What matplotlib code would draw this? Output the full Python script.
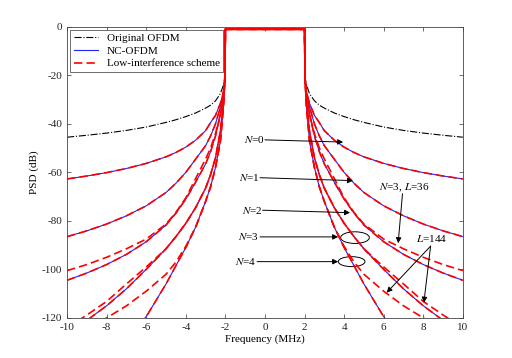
import matplotlib
matplotlib.use("Agg")
import matplotlib.pyplot as plt
import numpy as np
from matplotlib.patches import Ellipse

plt.rcParams['font.family'] = ['Liberation Serif', 'DejaVu Serif']
plt.rcParams['mathtext.fontset'] = 'stix'
plt.rcParams['font.size'] = 8
plt.rcParams['axes.unicode_minus'] = False

# frequency points on the right side (MHz); the curves are symmetric about 0
f_right = np.array([2.0, 2.03, 2.1, 2.25, 2.5, 2.75, 3, 3.5, 4, 4.5, 5, 6, 7, 8, 9, 10])

# PSD values (dB) at f_right
psd_ofdm = [-1, -21, -24, -27.5, -30.5, -32.3, -33.5, -35.5, -37, -38.3, -39.4, -41.3, -42.7, -43.8, -44.7, -45.5]
psd_n0 = [-1, -22, -27, -31.5, -36.5, -39.5, -42.8, -46.7, -49.6, -51.8, -53.6, -56.3, -58.4, -60.1, -61.5, -62.7]
psd_n1 = [-1, -22, -27.5, -33, -40, -45, -49, -54.5, -60, -64.5, -68.3, -73.8, -77.9, -81.3, -84.1, -86.5]
psd_n2 = [-1, -22, -28.5, -36, -45, -51.5, -56.5, -64, -71, -76.8, -81.7, -88.6, -93.8, -98, -101.5, -104.5]
psd_n3 = [-1, -22, -31.5, -43, -54, -61, -66.5, -74.5, -81, -86.5, -91.5, -100, -108, -115, -121, -126]
psd_n4 = [-1, -22, -33, -47, -58, -66, -72, -82.5, -91, -98.5, -106, -119.5, -129, -136, -142, -147]

# low-interference scheme curves that differ from NC-OFDM
psd_n3_l36 = [-1, -22, -28.5, -36, -44, -50, -54.5, -62.5, -70.5, -76.5, -81.3, -87.5, -91.5, -95, -98, -100.5]
psd_n3_l144 = [-1, -22, -31.5, -43, -54, -61, -66.5, -74.5, -81, -86.5, -91.5, -99, -106, -113.2, -118.8, -124]
psd_n4_l144 = [-1, -22, -33, -47, -58, -66, -72, -82.5, -90.5, -97, -102, -109, -115, -120, -124.5, -128.5]


def both_sides(v):
    v = np.asarray(v, dtype=float)
    return np.concatenate([v[::-1], v])


freq = np.concatenate([-f_right[::-1], f_right])

fig = plt.figure(figsize=(5.12, 3.58), dpi=100)
ax = fig.add_axes([0.131, 0.112, 0.773, 0.813])

ax.plot(freq, both_sides(psd_ofdm), color='black', lw=0.8, ls='-.', label='Original OFDM')

nc = [psd_n0, psd_n1, psd_n2, psd_n3, psd_n4]
for i, p in enumerate(nc):
    ax.plot(freq, both_sides(p), color='#2222ff', lw=0.8,
            label='NC-OFDM' if i == 0 else None)

low = nc + [psd_n3_l36, psd_n3_l144, psd_n4_l144]
for i, p in enumerate(low):
    ax.plot(freq, both_sides(p), color='red', lw=1.2, dashes=(5, 2.5),
            label='Low-interference scheme' if i == 0 else None)

ax.set_xlim(-10, 10)
ax.set_ylim(-120, 0)
ax.set_xticks(np.arange(-10, 11, 2))
ax.set_yticks(np.arange(-120, 1, 20))
ax.tick_params(direction='in', top=True, right=True, length=3, width=0.5,
               colors='#333333', labelcolor='#222222', labelsize=8)
for s in ax.spines.values():
    s.set_linewidth(0.6)
    s.set_color('#444444')
ax.set_xlabel('Frequency (MHz)', fontsize=8, labelpad=2)
ax.set_ylabel('PSD (dB)', fontsize=8, labelpad=2)

leg = ax.legend(loc='upper left', fontsize=8, handlelength=2.2, fancybox=False,
                borderaxespad=0.3, borderpad=0.3, labelspacing=0.25, framealpha=1)
leg.get_frame().set_edgecolor('#555555')
leg.get_frame().set_linewidth(0.6)

arrow = dict(arrowstyle='-|>', color='black', lw=0.7, mutation_scale=8, shrinkA=0, shrinkB=0)

ax.annotate('', xy=(3.95, -47.5), xytext=(0.0, -46.6), arrowprops=arrow)
ax.text(-0.55, -46.6, '$N$=0', ha='center', va='center', fontsize=8)
ax.annotate('', xy=(4.45, -63.4), xytext=(-0.25, -62.2), arrowprops=arrow)
ax.text(-0.8, -62.2, '$N$=1', ha='center', va='center', fontsize=8)
ax.annotate('', xy=(4.3, -76.6), xytext=(-0.12, -75.6), arrowprops=arrow)
ax.text(-0.65, -75.6, '$N$=2', ha='center', va='center', fontsize=8)
ax.annotate('', xy=(3.7, -86.6), xytext=(-0.25, -86.6), arrowprops=arrow)
ax.text(-0.85, -86.6, '$N$=3', ha='center', va='center', fontsize=8)
ax.annotate('', xy=(3.7, -96.8), xytext=(-0.4, -96.8), arrowprops=arrow)
ax.text(-0.95, -96.8, '$N$=4', ha='center', va='center', fontsize=8)

ax.add_patch(Ellipse((4.55, -86.9), 1.45, 4.8, fill=False, ec='black', lw=0.7))
ax.add_patch(Ellipse((4.38, -96.8), 1.35, 4.1, fill=False, ec='black', lw=0.7))

ax.text(7.05, -66.3, '$N$=3, $L$=36', ha='center', va='center', fontsize=8)
ax.annotate('', xy=(6.73, -89.2), xytext=(6.95, -68.8), arrowprops=arrow)
ax.text(8.4, -87.4, '$L$=144', ha='center', va='center', fontsize=8)
ax.annotate('', xy=(6.15, -109.6), xytext=(8.37, -90.4), arrowprops=arrow)
ax.annotate('', xy=(8.03, -113.7), xytext=(8.37, -90.4), arrowprops=arrow)

fig.savefig('out.png', dpi=100)
